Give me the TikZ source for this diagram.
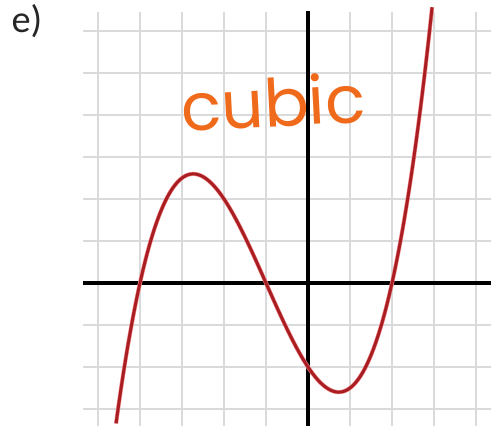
\documentclass[tikz,border=0pt]{standalone}
\usepackage{fontspec}
\setmainfont{Carlito}
\newfontfamily\handfont{Poppins}
\usetikzlibrary{positioning}
\definecolor{gridgray}{HTML}{D8DADC}
\definecolor{curvered}{HTML}{A81E22}
\definecolor{haloRed}{HTML}{E8383A}
\definecolor{labelorange}{HTML}{F06A1C}
\tikzset{
    gridline/.style={draw=gridgray, line width=1.3pt},
    axisline/.style={draw=black, line width=2.4pt},
    curveline/.style={draw=curvered, line width=2pt},
    halo/.style={draw=haloRed!60, line width=2.8pt},
    partlabel/.style={font=\fontsize{26}{28}\selectfont, text=black!85, inner sep=0pt, anchor=base},
    handlabel/.style={font=\handfont\fontsize{45}{47}\selectfont, text=labelorange, inner sep=0pt, anchor=base}
}

\begin{document}
\begin{tikzpicture}
    \useasboundingbox (-7.333,-3.405) rectangle (4.357,6.738);
    % squared paper
    \foreach \x in {-5,...,4}
        \draw[gridline] (\x,-3.405) -- (\x,6.45);
    \foreach \y in {-3,...,6}
        \draw[gridline] (-5.36,\y) -- (4.357,\y);
    % axes
    \coordinate (xl) at (-5.36,0);
    \coordinate (xr) at (4.357,0);
    \coordinate (yb) at (0,-3.405);
    \coordinate (yt) at (0,6.48);
    \draw[axisline] (xl) -- (xr);
    \draw[axisline] (yb) -- (yt);
    % y = (x+4)(x+1)(x-2)/4
    \draw[halo] plot[domain=-4.57:2.955, samples=120, smooth] (\x,{0.25*(\x+4)*(\x+1)*(\x-2)});
    \draw[curveline] plot[domain=-4.57:2.955, samples=120, smooth] (\x,{0.25*(\x+4)*(\x+1)*(\x-2)});
    % labels
    \node[partlabel] (part) at (-6.69,5.97) {e)};
    \node[handlabel, rotate=3] (name) at (-0.8,3.72) {cubic};
\end{tikzpicture}
\end{document}
